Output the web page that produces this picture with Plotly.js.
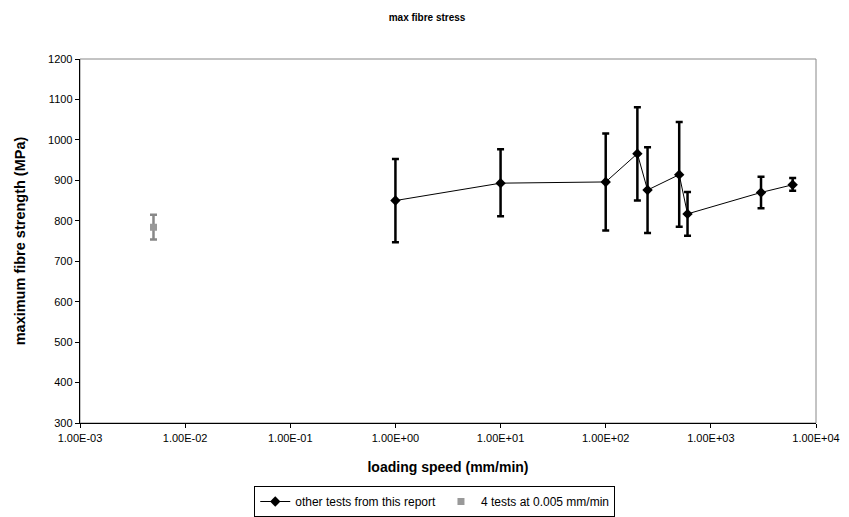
<!DOCTYPE html>
<html>
<head>
<meta charset="utf-8">
<script src="https://cdn.plot.ly/plotly-3.0.1.min.js"></script>
<style>html,body{margin:0;padding:0;background:#fff;}#chart{width:849px;height:517px;}</style>
</head>
<body>
<div id="chart"></div>
<script>
// Data
const speeds = [1, 10, 100, 200, 250, 500, 600, 3000, 6000];
const strength = [850, 893, 896, 966, 876, 914, 817, 870, 889];
const errPlus = [103, 84, 120, 115, 106, 130, 54, 39, 17];
const errMinus = [103, 82, 120, 116, 106, 129, 54, 39, 15];

const slowSpeed = [0.005];
const slowStrength = [784];
const slowErrPlus = [31];
const slowErrMinus = [30];

const tickVals = [1e-3, 1e-2, 1e-1, 1e0, 1e1, 1e2, 1e3, 1e4];
const tickText = ["1.00E-03", "1.00E-02", "1.00E-01", "1.00E+00", "1.00E+01", "1.00E+02", "1.00E+03", "1.00E+04"];

const font = "Liberation Sans, Arial, sans-serif";

const traces = [
  {
    x: speeds, y: strength, type: "scatter", mode: "lines+markers",
    name: "other tests from this report",
    line: {color: "#000", width: 1},
    marker: {symbol: "diamond", size: 8, color: "#000"},
    error_y: {type: "data", symmetric: false, array: errPlus, arrayminus: errMinus,
              color: "#000", thickness: 2.5, width: 3.5}
  },
  {
    x: slowSpeed, y: slowStrength, type: "scatter", mode: "markers",
    name: "4 tests at 0.005 mm/min",
    marker: {symbol: "square", size: 7, color: "#999999"},
    error_y: {type: "data", symmetric: false, array: slowErrPlus, arrayminus: slowErrMinus,
              color: "#888888", thickness: 2.5, width: 3.5}
  }
];

const layout = {
  width: 849, height: 517,
  paper_bgcolor: "#fff", plot_bgcolor: "#fff",
  margin: {l: 79.5, r: 32.5, t: 59.3, b: 93.7, autoexpand: false},
  font: {family: font, color: "#000", size: 11},
  title: {text: "<b>max fibre stress</b>", font: {family: font, size: 10, color: "#000"},
          x: 0.503, xref: "container", xanchor: "center", y: 0.967, yref: "container", yanchor: "middle"},
  xaxis: {
    type: "log", range: [-3, 4],
    tickmode: "array", tickvals: tickVals, ticktext: tickText,
    ticks: "outside", ticklen: 4, tickcolor: "#000", tickwidth: 1,
    showline: true, linecolor: "#000", linewidth: 1.3,
    showgrid: false, zeroline: false,
    tickfont: {family: font, size: 11, color: "#000"},
    title: {text: "<b>loading speed (mm/min)</b>", font: {family: font, size: 14, color: "#000"}, standoff: 19}
  },
  yaxis: {
    range: [300, 1200], dtick: 100, tick0: 300,
    ticks: "outside", ticklen: 4, tickcolor: "#000", tickwidth: 1,
    showline: true, linecolor: "#000", linewidth: 1.3,
    showgrid: false, zeroline: false,
    tickfont: {family: font, size: 11, color: "#000"},
    title: {text: "<b>maximum fibre strength (MPa)</b>", font: {family: font, size: 14.5, color: "#000"}, standoff: 19}
  },
  shapes: [
    {type: "rect", xref: "paper", yref: "paper", x0: 0, x1: 1, y0: 0, y1: 1,
     line: {color: "#888", width: 1}, layer: "below"}
  ],
  showlegend: true,
  legend: {
    orientation: "h", x: 0.482, xanchor: "center", xref: "paper",
    y: 0.0, yanchor: "bottom", yref: "container",
    bordercolor: "#000", borderwidth: 1, bgcolor: "#fff",
    font: {family: font, size: 12, color: "#000"},
    itemsizing: "trace", tracegroupgap: 0
  }
};

Plotly.newPlot("chart", traces, layout, {displayModeBar: false, staticPlot: true});
</script>
</body>
</html>
